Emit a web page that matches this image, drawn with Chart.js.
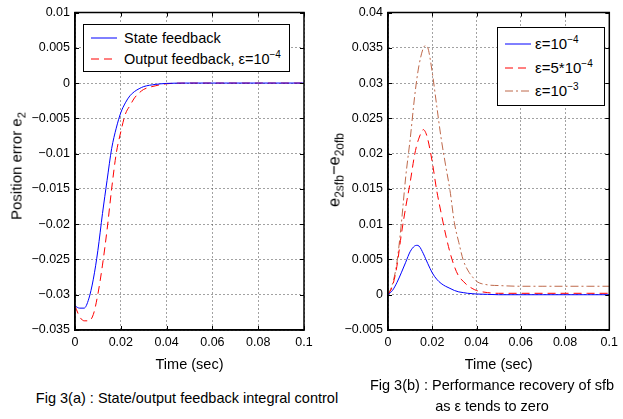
<!DOCTYPE html>
<html>
<head>
<meta charset="utf-8">
<script src="https://cdn.jsdelivr.net/npm/chart.js@4.4.1/dist/chart.umd.min.js"></script>
<style>
  body { margin: 0; background: #fff; font-family: "Liberation Sans", Arial, sans-serif; color: #000; }
  #wrap { position: relative; width: 623px; height: 419px; overflow: hidden; }
  canvas { position: absolute; top: 0; }
  .legend { position: absolute; border: 1.5px solid #000; background: #fff; font-size: 14.5px; box-sizing: border-box; }
  .legend .row { position: absolute; left: 0; height: 20px; line-height: 20px; white-space: nowrap; }
  .legend svg { position: absolute; top: 5px; }
  .legend span { position: absolute; top: 0; }
  .legend sup { font-size: 10px; vertical-align: 6px; line-height: 0; }
  .ytitle { position: absolute; transform: translate(-50%, -50%) rotate(-90deg); white-space: nowrap; font-size: 15px; font-weight: normal; }
  .ytitle sub { font-size: 11px; vertical-align: -4px; line-height: 0; }
  .caption { position: absolute; text-align: center; font-size: 14.5px; line-height: 21px; white-space: nowrap; }
</style>
</head>
<body>
<div id="wrap">
  <canvas id="chartA" width="320" height="376" style="left:0"></canvas>
  <canvas id="chartB" width="303" height="376" style="left:320px"></canvas>

  <div class="ytitle" style="left:16px; top:166px;">Position error e<sub>2</sub></div>
  <div class="ytitle" style="left:334px; top:170px; font-size:16.5px;">e<sub style="font-size:12px">2sfb</sub>−e<sub style="font-size:12px">2ofb</sub></div>

  <div class="legend" style="left:83px; top:24px; width:207px; height:48px;">
    <div class="row" style="top:3px">
      <svg width="26" height="10" style="left:7px"><line x1="0" y1="5" x2="26" y2="5" stroke="#0000ff" stroke-width="1"/></svg>
      <span style="left:40px">State feedback</span>
    </div>
    <div class="row" style="top:24px">
      <svg width="26" height="10" style="left:7px"><line x1="0" y1="5" x2="26" y2="5" stroke="#ff0000" stroke-width="1" stroke-dasharray="8,5"/></svg>
      <span style="left:40px">Output feedback, ε=10<sup>−4</sup></span>
    </div>
  </div>

  <div class="legend" style="left:497px; top:27px; width:108px; height:79px; font-size:15px;">
    <div class="row" style="top:6px">
      <svg width="26" height="10" style="left:7px"><line x1="0" y1="5" x2="26" y2="5" stroke="#0000ff" stroke-width="1"/></svg>
      <span style="left:37px">ε=10<sup>−4</sup></span>
    </div>
    <div class="row" style="top:30px">
      <svg width="26" height="10" style="left:7px"><line x1="0" y1="5" x2="26" y2="5" stroke="#ff0000" stroke-width="1" stroke-dasharray="8,5"/></svg>
      <span style="left:37px">ε=5*10<sup>−4</sup></span>
    </div>
    <div class="row" style="top:53px">
      <svg width="26" height="10" style="left:7px"><line x1="0" y1="5" x2="26" y2="5" stroke="rgb(190,105,75)" stroke-width="1" stroke-dasharray="8,3,2,3"/></svg>
      <span style="left:37px">ε=10<sup>−3</sup></span>
    </div>
  </div>

  <div class="caption" style="left:187px; top:388px; transform:translateX(-50%);">Fig 3(a) : State/output feedback integral control</div>
  <div class="caption" style="left:492px; top:375px; transform:translateX(-50%);">Fig 3(b) : Performance recovery of sfb<br>as ε tends to zero</div>
</div>

<script>
// Fig 3(a): position error e2
const timeA = [0, 0.002, 0.004, 0.006, 0.008, 0.010, 0.012, 0.014, 0.016, 0.018, 0.020,
  0.022, 0.024, 0.026, 0.028, 0.030, 0.035, 0.040, 0.050, 0.060, 0.080, 0.100];
const stateFb = [-0.0316, -0.0319, -0.0319, -0.0306, -0.0278, -0.0237, -0.0185, -0.0138, -0.0093, -0.0064, -0.0042,
  -0.0028, -0.0018, -0.0012, -0.0008, -0.0005, -0.0002, -0.00005, 0, 0, 0, 0];
const outputFb = [-0.0316, -0.0331, -0.0337, -0.0337, -0.0328, -0.0299, -0.0258, -0.0208, -0.0150, -0.0100, -0.0069,
  -0.0044, -0.0032, -0.0021, -0.0014, -0.0009, -0.0004, -0.0001, 0, 0, 0, 0];

// Fig 3(b): e2sfb - e2ofb
const timeB = [0, 0.002, 0.004, 0.006, 0.008, 0.010, 0.012, 0.013, 0.014, 0.016, 0.017, 0.018, 0.020,
  0.022, 0.024, 0.026, 0.028, 0.030, 0.032, 0.034, 0.036, 0.038, 0.040, 0.045, 0.050, 0.060, 0.070, 0.080, 0.090, 0.100];
const eps1e4 = [0, 0.0006, 0.0017, 0.0031, 0.0046, 0.0061, 0.0069, 0.0070, 0.0069, 0.0058, 0.0051, 0.0044, 0.0031,
  0.0022, 0.0016, 0.0012, 0.0009, 0.0006, 0.0004, 0.0003, 0.0002, 0.00015, 0.0001, 0.00005, 0, 0, 0, 0, 0, 0];
const eps5e4 = [0, 0.0012, 0.0040, 0.0085, 0.0124, 0.0159, 0.0198, 0.0212, 0.0222, 0.0234, 0.0230, 0.0220, 0.0188,
  0.0148, 0.0116, 0.0086, 0.0060, 0.0040, 0.0026, 0.0019, 0.0013, 0.0009, 0.0006, 0.0003, 0.0002, 0.0002, 0.0002, 0.0002, 0.0002, 0.0002];
const eps1e3 = [0, 0.0015, 0.0045, 0.0100, 0.0167, 0.0220, 0.0280, 0.0305, 0.0325, 0.0350, 0.0353, 0.0350, 0.0315,
  0.0268, 0.0222, 0.0184, 0.0148, 0.0102, 0.0074, 0.0049, 0.0035, 0.0026, 0.0019, 0.0014, 0.0013, 0.0012, 0.0012, 0.0012, 0.0012, 0.0012];

const xTicks = [0, 0.02, 0.04, 0.06, 0.08, 0.1];
const yTicksA = [-0.035, -0.03, -0.025, -0.02, -0.015, -0.01, -0.005, 0, 0.005, 0.01];
const yTicksB = [-0.005, 0, 0.005, 0.01, 0.015, 0.02, 0.025, 0.03, 0.035, 0.04];

const pts = (t, v) => t.map((x, i) => ({ x: x, y: v[i] }));
const fmt = v => parseFloat(Number(v).toFixed(4)).toString().replace('-', '\u2212');

// black box round the plot area with small inward ticks, like matlab axes
const boxPlugin = {
  id: 'box',
  afterDatasetsDraw(chart) {
    const { ctx, chartArea: a, scales } = chart;
    ctx.save();
    ctx.strokeStyle = '#000';
    ctx.lineWidth = 1;
    ctx.beginPath();
    scales.x.ticks.forEach(t => {
      const px = Math.round(scales.x.getPixelForValue(t.value)) + 0.5;
      ctx.moveTo(px, a.bottom); ctx.lineTo(px, a.bottom - 4);
      ctx.moveTo(px, a.top); ctx.lineTo(px, a.top + 4);
    });
    scales.y.ticks.forEach(t => {
      const py = Math.round(scales.y.getPixelForValue(t.value)) + 0.5;
      ctx.moveTo(a.left, py); ctx.lineTo(a.left + 4, py);
      ctx.moveTo(a.right, py); ctx.lineTo(a.right - 4, py);
    });
    ctx.stroke();
    ctx.lineWidth = 1.5;
    ctx.strokeRect(a.left, a.top, a.right - a.left, a.bottom - a.top);
    ctx.restore();
  }
};

function makeChart(id, datasets, yTicks, yWidth, padRight) {
  return new Chart(document.getElementById(id), {
    type: 'line',
    data: { datasets: datasets },
    options: {
      responsive: false,
      animation: false,
      layout: { padding: { top: 12, right: padRight, left: 0, bottom: 0 } },
      plugins: { legend: { display: false }, tooltip: { enabled: false } },
      elements: {
        point: { radius: 0 },
        line: { borderWidth: 1, cubicInterpolationMode: 'monotone' }
      },
      scales: {
        x: {
          type: 'linear', min: 0, max: 0.1,
          afterBuildTicks: s => { s.ticks = xTicks.map(v => ({ value: v })); },
          afterFit: s => { s.height = 46; },
          ticks: { callback: v => fmt(v), color: '#000', font: { family: 'Liberation Sans', size: 12.5 }, padding: 5, maxRotation: 0 },
          grid: { color: '#444', lineWidth: 1, drawTicks: false },
          border: { dash: [1, 3], color: '#000', width: 1.5 },
          title: { display: true, text: 'Time (sec)', color: '#000', font: { family: 'Liberation Sans', size: 14.5 }, padding: { top: 0, bottom: 2 } }
        },
        y: {
          type: 'linear', min: yTicks[0], max: yTicks[yTicks.length - 1],
          afterBuildTicks: s => { s.ticks = yTicks.map(v => ({ value: v })); },
          afterFit: s => { s.width = yWidth; },
          ticks: { callback: v => fmt(v), color: '#000', font: { family: 'Liberation Sans', size: 12.5 }, padding: 5 },
          grid: { color: '#444', lineWidth: 1, drawTicks: false },
          border: { dash: [1, 3], color: '#000', width: 1.5 }
        }
      }
    },
    plugins: [boxPlugin]
  });
}

makeChart('chartA', [
  { label: 'State feedback', data: pts(timeA, stateFb), borderColor: '#0000ff' },
  { label: 'Output feedback', data: pts(timeA, outputFb), borderColor: '#ff0000', borderDash: [8, 5] }
], yTicksA, 75, 16);

makeChart('chartB', [
  { label: 'eps 1e-4', data: pts(timeB, eps1e4), borderColor: '#0000ff' },
  { label: 'eps 5e-4', data: pts(timeB, eps5e4), borderColor: '#ff0000', borderDash: [8, 5] },
  { label: 'eps 1e-3', data: pts(timeB, eps1e3), borderColor: 'rgb(190,105,75)', borderDash: [8, 3, 2, 3] }
], yTicksB, 68, 7);
</script>
</body>
</html>
